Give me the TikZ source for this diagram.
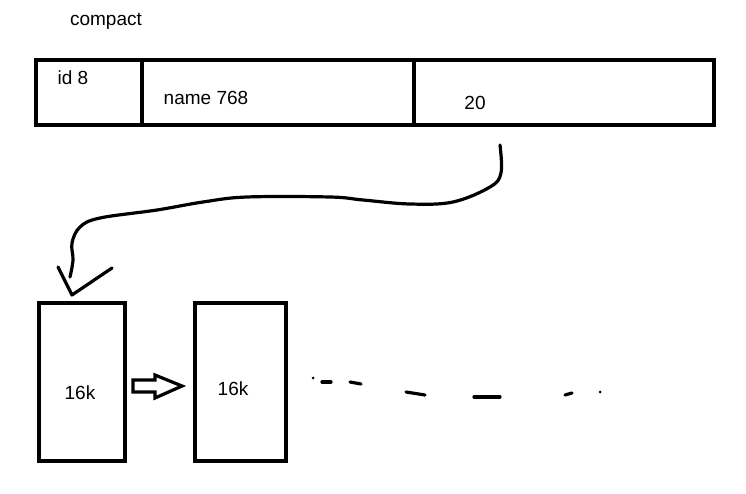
\documentclass[tikz,border=0pt]{standalone}
\usepackage{fontspec}
\setmainfont{Liberation Sans}
\begin{document}
\begin{tikzpicture}[x=1pt,y=-1pt,
  cell/.style={draw,line width=4.5pt,inner sep=0pt,minimum height=65pt},
  page/.style={draw,line width=4.5pt,inner sep=0pt,minimum height=158pt},
  lbl/.style={inner sep=0pt,font=\fontsize{19}{22}\selectfont},
  ink/.style={line width=3.2pt,line cap=round,line join=round}]
\useasboundingbox (0,0) rectangle (746,494);
\node[lbl] (title) at (106,21) {compact};
% top bar
\node[cell,minimum width=106pt] (c1) at (89,92.5) {};
\node[cell,minimum width=272pt] (c2) at (278,92.5) {};
\node[cell,minimum width=300pt] (c3) at (564,92.5) {};
\node[lbl] (t1) at (73,78) {id 8};
\node[lbl] (t2) at (206,98) {name 768};
\node[lbl] (t3) at (475,103) {20};
% pages
\node[page,minimum width=86pt] (p1) at (82,382) {};
\node[page,minimum width=91pt] (p2) at (240.5,382) {};
\node[lbl] (k1) at (80,393) {16k};
\node[lbl] (k2) at (233,389) {16k};
% curved connector from the third field to the first page
\coordinate (cs) at (500,145);
\coordinate (ce) at (70,277);
\coordinate (tip) at (72,295);
\draw[ink] plot[smooth,tension=0.6] coordinates {(cs) (501,173) (490,187) (453,202) (410,204) (363,200) (330,197) (247,197) (203,202) (157,210) (100,218) (80,227) (72,243) (73,260) (ce)};
\draw[ink] (58,267) -- (tip) -- (112,268);
% hollow arrow between pages
\draw[line width=3.2pt,line join=miter] (133,380) -- (155,380) -- (155,375) -- (182,386) -- (155,398) -- (155,392) -- (133,392) -- cycle;
% dots and dashes
\fill (313,378) circle (1.5);
\draw[ink] (322,382) -- (331,382);
\draw[ink] (350,382) -- (361,384);
\draw[ink] (406,392) -- (425,395);
\draw[ink] (474,397) -- (500,397);
\draw[ink] (565,395) -- (572,393);
\fill (600,392) circle (1.5);
\end{tikzpicture}
\end{document}
